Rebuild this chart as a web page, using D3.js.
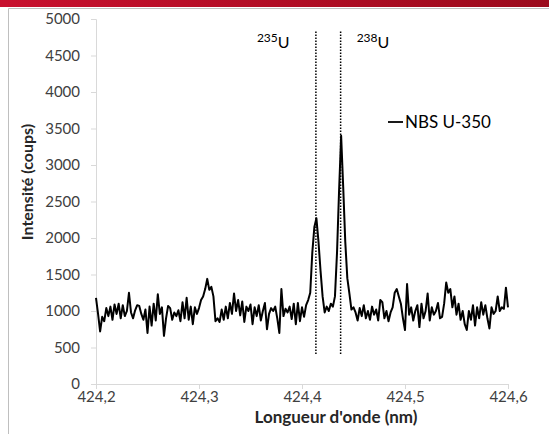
<!DOCTYPE html>
<html>
<head>
<meta charset="utf-8">
<script src="https://cdn.jsdelivr.net/npm/d3@7"></script>
<style>
  html, body { margin: 0; padding: 0; background: #fff; }
  svg { display: block; font-family: Lato, "Open Sans", sans-serif; }
</style>
</head>
<body>
<svg id="chart" width="549" height="434"></svg>
<script>
// ---- data ----
const xStart = 424.2;
const xStep = 0.002;
const intensity = [
  1180, 960, 720, 920, 860, 1040, 930, 1060, 880, 1090,
  960, 1100, 900, 1080, 930, 1000, 1250, 980, 900, 1010,
  1080, 1070, 960, 880, 1020, 700, 1060, 800, 1100, 870,
  1230, 960, 1050, 660, 900, 1070, 1040, 880, 980, 930,
  1010, 860, 1120, 900, 1180, 880, 1060, 820, 1050, 960,
  1040, 1150, 1200, 1300, 1440, 1290, 1330, 1200, 860, 900,
  850, 1020, 880, 1060, 900, 1110, 960, 1240, 1000, 1150,
  940, 1130, 850, 1060, 1000, 1090, 820, 1050, 930, 1080,
  870, 1000, 1110, 750, 960, 1040, 1000, 1060, 900, 700,
  1300, 930, 1030, 980, 1060, 890, 1100, 820, 1110, 860,
  1050, 920, 1080, 1150, 1250, 1800, 2150, 2270, 1950, 1550,
  1200, 980, 1060, 1000, 1100, 1060, 1200, 1800, 2650, 3400,
  2700, 1950, 1450, 1240, 1020, 1050, 980, 870, 1040, 930,
  1080, 900, 1000, 880, 1060, 950, 1020, 870, 1150, 1120,
  900, 1000, 860, 980, 1050, 1250, 1300, 1200, 1100, 900,
  740, 1370, 950, 1050, 870, 1000, 1080, 780, 1100, 900,
  1000, 1240, 870, 1050, 950, 1000, 1110, 900, 920, 1100,
  1390, 1250, 1300, 1050, 1200, 950, 1100, 880, 1000, 820,
  740, 1000, 880, 1080, 800, 1050, 900, 1120, 950, 1080,
  900, 760, 1050, 960, 1000, 1200, 1000, 1050, 1030, 1320,
  1050
];
const xTicks = [424.2, 424.3, 424.4, 424.5, 424.6];
const xTickLabels = ["424,2", "424,3", "424,4", "424,5", "424,6"];
const yTicks = [0, 500, 1000, 1500, 2000, 2500, 3000, 3500, 4000, 4500, 5000];
const isotopeLines = [424.4135, 424.4375];
const isotopeMass = ["235", "238"];
const isotopeLineRange = [400, 4830];
const seriesName = "NBS U-350";
const xTitle = "Longueur d'onde (nm)";
const yTitle = "Intensité (coups)";

// ---- chart ----
const svg = d3.select("#chart");
const W = 549, H = 434;

// frame & header bar
const defs = svg.append("defs");
const grad = defs.append("linearGradient").attr("id", "hdr").attr("x1", "0%").attr("x2", "100%");
grad.append("stop").attr("offset", "0%").attr("stop-color", "#c8102e");
grad.append("stop").attr("offset", "100%").attr("stop-color", "#9b0a1c");
svg.append("rect").attr("x", 0).attr("y", 0).attr("width", W).attr("height", 7).attr("fill", "url(#hdr)");
svg.append("path").attr("d", `M8.5,${H} V8.5 H${W}`).attr("fill", "none").attr("stroke", "#bfbfbf").attr("stroke-width", 1);

const margin = { left: 96, right: 41, top: 19, bottom: 50 };
const x = d3.scaleLinear().domain([424.2, 424.6]).range([margin.left, W - margin.right]);
const y = d3.scaleLinear().domain([0, 5000]).range([H - margin.bottom, margin.top]);

const data = intensity.map((v, i) => ({ x: xStart + i * xStep, y: v }));

// axes
const xAxis = d3.axisBottom(x).tickValues(xTicks).tickFormat((d, i) => xTickLabels[i]).tickSize(5).tickPadding(2);
const yAxis = d3.axisLeft(y).tickValues(yTicks).tickFormat(d => d).tickSize(5).tickPadding(11);

const gx = svg.append("g").attr("transform", `translate(0,${y(0)})`).call(xAxis);
const gy = svg.append("g").attr("transform", `translate(${x(424.2)},0)`).call(yAxis);
[gx, gy].forEach(g => {
  g.select(".domain").attr("stroke", "#d9d9d9").attr("stroke-width", 1);
  g.selectAll(".tick line").attr("stroke", "#d9d9d9");
  g.selectAll(".tick text").attr("fill", "#404040").style("font-size", "15px").style("font-family", "Lato, sans-serif");
});

// series line
svg.append("path")
  .datum(data)
  .attr("fill", "none")
  .attr("stroke", "#000")
  .attr("stroke-width", 2)
  .attr("stroke-linejoin", "round")
  .attr("d", d3.line().x(d => x(d.x)).y(d => y(d.y)));

// isotope dotted lines
svg.selectAll(".iso")
  .data(isotopeLines)
  .enter().append("line")
  .attr("x1", d => x(d)).attr("x2", d => x(d))
  .attr("y1", y(isotopeLineRange[1])).attr("y2", y(isotopeLineRange[0]))
  .attr("stroke", "#000").attr("stroke-width", 1.5).attr("stroke-dasharray", "1.5,1.5");

// isotope labels
const labelOffsets = [-59, 16];
isotopeLines.forEach((v, i) => {
  const t = svg.append("text")
    .attr("x", x(v) + labelOffsets[i]).attr("y", 48)
    .attr("fill", "#000");
  t.append("tspan").attr("font-size", "12px").attr("dy", "-6").text(isotopeMass[i]);
  t.append("tspan").attr("font-size", "16px").attr("dy", "6").text("U");
});

// legend
svg.append("line").attr("x1", 388).attr("x2", 403).attr("y1", 122).attr("y2", 122)
  .attr("stroke", "#000").attr("stroke-width", 1.8);
svg.append("text").attr("x", 405).attr("y", 128).attr("font-size", "17px").attr("fill", "#000").text(seriesName);

// axis titles
svg.append("text").attr("x", 336).attr("y", 423).attr("text-anchor", "middle")
  .attr("font-size", "17px").attr("font-weight", "bold").attr("fill", "#262626").text(xTitle);
svg.append("text").attr("transform", "translate(33,182) rotate(-90)").attr("text-anchor", "middle")
  .attr("font-size", "16px").attr("font-weight", "bold").attr("fill", "#262626").text(yTitle);
</script>
</body>
</html>
